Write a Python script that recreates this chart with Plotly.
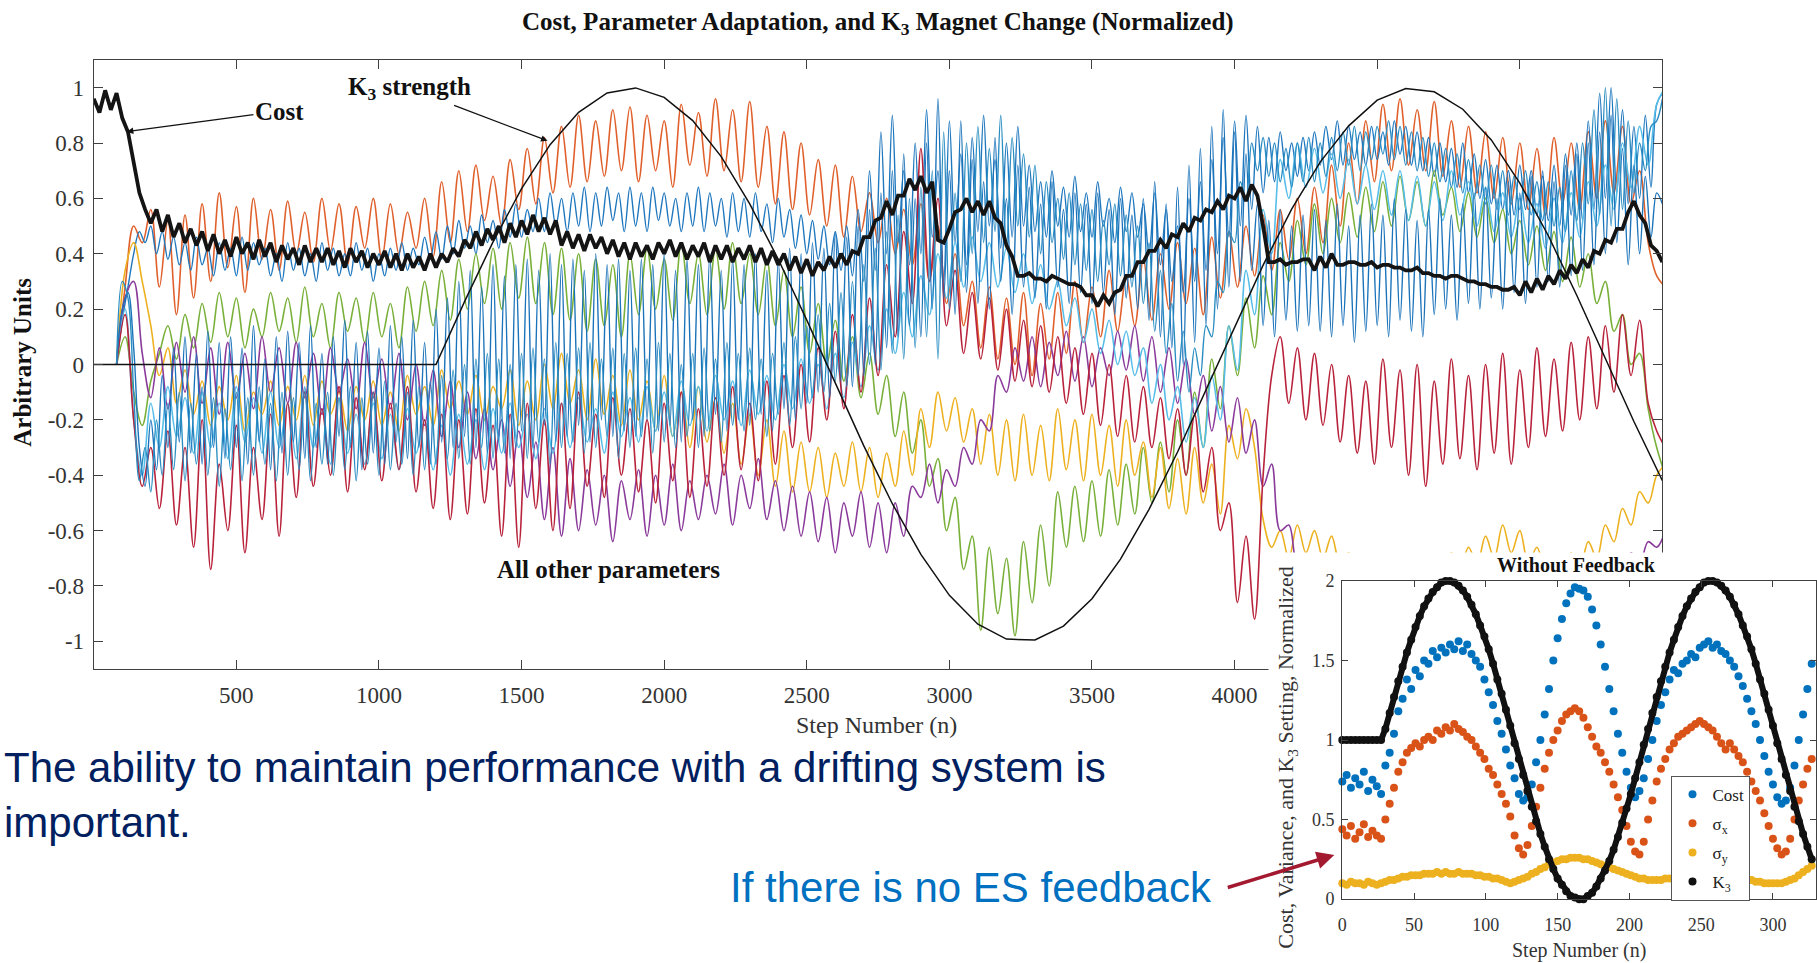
import numpy as np
import plotly.graph_objects as go

# ---------------- main chart data ----------------
# sample grids (step number n)
SLOW_STEPS = np.arange(80, 5511, 30)
FAST_STEPS = np.arange(80, 5501, 20)
COST_STEPS = np.arange(0, 5501, 20)
K3_STEPS = np.arange(0, 5501, 100)

# K3 magnet strength (normalized): flat until n = 1200, then the drift
k3_strength = [0.0, 0.0, 0.0, 0.0, 0.0, 0.0, 0.0, 0.0, 0.0, 0.0, 0.0, 0.0, 0.0,
               0.227, 0.443, 0.635, 0.794, 0.911, 0.981, 0.999, 0.965, 0.881,
               0.751, 0.580, 0.380, 0.160, -0.069, -0.294, -0.503, -0.686, -0.834, -0.938,
               -0.992, -0.995, -0.945, -0.846, -0.703, -0.523, -0.316, -0.092, 0.137, 0.359,
               0.561, 0.731, 0.862, 0.955, 0.997, 0.985, 0.922, 0.811, 0.655, 0.465,
               0.249, 0.022, -0.206, -0.420]

# cost (hundredths)
cost_main = [
    96, 91, 99, 92, 98, 89, 84, 72, 62, 56,
    51, 56, 48, 54, 46, 51, 44, 49, 43, 48,
    41, 47, 40, 45, 39, 46, 40, 44, 38, 45,
    39, 44, 37, 43, 38, 42, 36, 43, 37, 42,
    37, 42, 36, 41, 35, 42, 37, 41, 35, 40,
    36, 41, 35, 40, 34, 40, 35, 39, 34, 40,
    35, 40, 37, 42, 39, 45, 42, 48, 43, 49,
    45, 50, 44, 51, 46, 52, 47, 54, 48, 53,
    47, 52, 43, 48, 42, 47, 41, 47, 42, 46,
    40, 45, 39, 44, 38, 44, 39, 43, 38, 44,
    40, 45, 39, 44, 38, 43, 39, 44, 37, 43,
    38, 43, 37, 42, 38, 43, 37, 42, 36, 41,
    36, 40, 34, 39, 33, 38, 32, 37, 34, 39,
    35, 40, 36, 41, 40, 46, 46, 52, 53, 59,
    54, 61, 61, 67, 63, 68, 62, 66, 45, 44,
    49, 55, 56, 60, 55, 59, 54, 59, 53, 51,
    43, 39, 32, 32, 33, 31, 31, 30, 32, 31,
    30, 29, 29, 28, 25, 25, 21, 25, 22, 26,
    27, 32, 32, 37, 37, 41, 41, 45, 42, 47,
    46, 51, 48, 53, 52, 56, 55, 59, 56, 61,
    60, 64, 59, 65, 61, 50, 37, 37, 38, 36,
    37, 37, 38, 38, 34, 39, 35, 40, 36, 36,
    37, 37, 36, 36, 37, 35, 36, 36, 35, 35,
    34, 34, 35, 33, 33, 32, 32, 31, 32, 32,
    31, 30, 30, 29, 29, 28, 28, 27, 27, 28,
    25, 30, 26, 31, 27, 32, 29, 34, 31, 36,
    33, 38, 35, 41, 40, 45, 44, 49, 49, 55,
    59, 54, 51, 43, 41, 37]

# adapted parameters on the slow grid (hundredths)
param_orange = [
    0, 28, 50, 44, 56, 28, 52, 18, 54, 24,
    58, 30, 62, 35, 57, 26, 60, 38, 56, 34,
    59, 40, 55, 37, 60, 41, 58, 36, 57, 42,
    60, 38, 58, 40, 55, 42, 60, 39, 66, 44,
    70, 48, 72, 52, 68, 50, 74, 56, 78, 58,
    82, 62, 86, 64, 90, 66, 88, 68, 92, 70,
    93, 66, 90, 70, 88, 64, 94, 72, 91, 68,
    96, 70, 92, 66, 95, 64, 86, 58, 84, 56,
    80, 54, 74, 50, 72, 46, 68, 48, 62, 44,
    60, 40, 56, 36, 58, 30, 50, 22, 40, 14,
    30, 6, 28, 2, 24, 0, 26, -4, 22, 2,
    26, 4, 30, 8, 28, 10, 34, 12, 32, 14,
    38, 16, 40, 20, 44, 22, 42, 18, 46, 24,
    48, 28, 50, 32, 54, 34, 56, 38, 60, 40,
    64, 44, 72, 50, 80, 58, 88, 66, 94, 70,
    96, 72, 92, 70, 95, 68, 88, 64, 86, 62,
    84, 60, 82, 58, 80, 56, 78, 54, 82, 58,
    80, 56, 84, 60, 88, 62, 86, 58, 70, 44,
    32, 28]

param_green = [
    0, 10, -10, -22, -6, 4, 14, 2, 18, 6,
    22, 8, 26, 10, 24, 6, 20, 10, 26, 12,
    24, 8, 28, 10, 22, 6, 26, 12, 24, 8,
    26, 10, 22, 6, 28, 12, 30, 14, 34, 16,
    38, 20, 40, 22, 42, 20, 44, 24, 46, 22,
    44, 18, 42, 16, 40, 12, 38, 14, 36, 10,
    40, 18, 42, 20, 38, 16, 44, 22, 40, 18,
    42, 20, 44, 22, 40, 18, 38, 14, 34, 10,
    28, 4, 22, 0, 16, -6, 10, -12, 4, -18,
    -4, -26, -10, -32, -20, -44, -34, -60, -48, -74,
    -62, -96, -66, -90, -70, -98, -64, -86, -58, -80,
    -46, -66, -44, -64, -42, -62, -38, -58, -36, -54,
    -30, -50, -28, -46, -20, -40, -10, -30, 2, -16,
    14, -4, 24, 6, 32, 18, 44, 30, 52, 36,
    58, 40, 60, 44, 62, 46, 64, 48, 66, 50,
    68, 52, 66, 50, 70, 54, 64, 48, 62, 46,
    60, 44, 56, 40, 52, 36, 50, 34, 48, 30,
    46, 28, 40, 22, 30, 12, 18, 0, 4, -16,
    -30, -40]

param_yellow = [
    0, 34, 44, 30, 14, -4, 6, -14, -2, -18,
    -6, -22, -8, -20, -4, -24, -10, -18, -6, -22,
    -8, -20, -4, -22, -6, -18, -10, -24, -8, -20,
    -6, -22, -10, -24, -4, -18, -8, -22, -2, -16,
    -6, -18, -4, -20, -8, -16, -2, -22, -6, -20,
    0, -16, 4, -14, -2, -20, 2, -18, -4, -22,
    -2, -20, -6, -24, -4, -26, -10, -30, -8, -28,
    -12, -32, -14, -36, -18, -40, -20, -44, -24, -46,
    -28, -46, -30, -48, -32, -44, -28, -46, -30, -48,
    -32, -44, -24, -40, -16, -30, -10, -24, -12, -28,
    -16, -36, -18, -40, -20, -42, -18, -40, -22, -42,
    -16, -38, -20, -42, -18, -40, -22, -44, -20, -40,
    -28, -48, -30, -52, -34, -54, -30, -50, -36, -54,
    -22, -34, -16, -30, -56, -66, -60, -70, -58, -68,
    -60, -70, -62, -72, -68, -76, -70, -78, -72, -80,
    -74, -80, -72, -78, -70, -76, -68, -74, -66, -72,
    -62, -70, -58, -68, -60, -72, -66, -74, -70, -76,
    -68, -74, -64, -70, -58, -64, -52, -58, -46, -50,
    -40, -36]

param_purple = [
    0, 24, 30, 4, -12, 6, -16, 8, -10, 10,
    -14, 6, -18, 8, -12, 4, -16, 10, -10, 6,
    -14, 8, -12, 4, -18, 6, -10, 2, -16, 8,
    -12, 2, -16, 4, -20, 0, -22, -2, -26, -6,
    -30, -10, -34, -16, -38, -20, -44, -24, -48, -28,
    -56, -30, -62, -34, -60, -38, -58, -40, -64, -42,
    -56, -38, -62, -40, -58, -36, -60, -42, -56, -40,
    -54, -36, -58, -40, -52, -34, -56, -42, -60, -44,
    -62, -46, -64, -48, -68, -50, -62, -46, -66, -50,
    -68, -50, -62, -44, -48, -36, -50, -38, -44, -30,
    -36, -20, -24, -4, -10, 6, -6, 10, -8, 8,
    -4, 12, -6, 10, -8, 6, -4, 12, -2, 14,
    -6, 10, -10, 6, -14, 2, -18, -4, -24, -8,
    -28, -12, -32, -20, -44, -36, -60, -58, -72, -70,
    -78, -72, -80, -74, -82, -76, -80, -72, -84, -76,
    -82, -74, -86, -78, -84, -76, -80, -74, -82, -76,
    -84, -78, -86, -80, -82, -76, -84, -78, -80, -74,
    -82, -76, -80, -74, -78, -70, -76, -68, -72, -64,
    -66, -60]

param_lightblue = [
    0, 20, -20, -40, -14, -30, -8, -26, -12, -32,
    -10, -30, -14, -34, -8, -28, -12, -32, -10, -30,
    -14, -34, -10, -30, -16, -36, -12, -32, -18, -36,
    -14, -34, -18, -38, -16, -32, -20, -38, -22, -40,
    -18, -36, -20, -38, -16, -32, -14, -30, -18, -34,
    -16, -32, -14, -30, -12, -28, -16, -32, -10, -26,
    -12, -28, -8, -24, -10, -26, -6, -22, -8, -24,
    -4, -20, -6, -22, -2, -18, -4, -20, 0, -16,
    2, -14, 0, -16, 4, -12, 8, -8, 14, -2,
    20, 4, 26, 10, 32, 18, 40, 24, 44, 28,
    46, 30, 44, 28, 42, 26, 40, 22, 36, 20,
    30, 14, 24, 8, 20, 4, 16, 0, 12, -4,
    6, -14, 0, -20, -8, -28, -12, -30, -4, -20,
    14, -2, 34, 18, 56, 40, 74, 60, 80, 64,
    78, 62, 76, 60, 74, 58, 72, 56, 70, 54,
    70, 52, 68, 50, 66, 52, 70, 54, 66, 50,
    64, 48, 62, 46, 60, 44, 58, 42, 60, 44,
    62, 46, 66, 50, 72, 56, 80, 64, 86, 72,
    94, 100]

param_darkred = [
    0, 18, -20, -44, -30, -52, -24, -58, -30, -66,
    -20, -74, -36, -60, -22, -68, -30, -56, -18, -62,
    -14, -48, -10, -44, -16, -40, -8, -46, -12, -38,
    -10, -42, -14, -38, -8, -46, -20, -52, -18, -56,
    -20, -54, -16, -50, -22, -62, -18, -66, -14, -52,
    -20, -60, -14, -52, -10, -44, -18, -48, -12, -40,
    -16, -46, -20, -50, -14, -42, -10, -48, -16, -44,
    -12, -40, -8, -38, -14, -42, -6, -36, -4, -30,
    0, -28, 6, -20, 12, -16, 18, -10, 24, -4,
    36, 10, 48, 22, 78, 30, 60, 14, 34, 4,
    26, 2, 24, -2, 20, -6, 16, -8, 14, -10,
    10, -14, 6, -18, 4, -22, 0, -26, -4, -28,
    -8, -30, -12, -34, -16, -40, -18, -46, -30, -60,
    -50, -86, -62, -92, -40, -4, 10, -14, 6, -20,
    4, -22, 0, -28, -4, -32, -6, -36, 2, -30,
    -2, -40, 0, -44, -6, -36, 2, -34, -4, -38,
    0, -32, 4, -36, -2, -30, 6, -26, 2, -24,
    8, -20, 10, -16, 14, -10, 18, -4, 16, -14,
    -24, -30]

# adapted parameters on the fast grid (hundredths)
param_blue_a = [
    0, 16, 28, 40, 48, 44, 50, 40, 48, 38,
    46, 36, 44, 34, 46, 36, 42, 32, 44, 34,
    42, 32, 46, 34, 44, 36, 42, 32, 40, 30,
    44, 34, 42, 32, 40, 30, 44, 34, 42, 32,
    40, 32, 44, 34, 42, 30, 40, 32, 42, 34,
    44, 34, 42, 36, 46, 38, 48, 38, 50, 40,
    52, 42, 50, 40, 54, 44, 52, 42, 56, 46,
    58, 46, 56, 48, 60, 48, 62, 50, 60, 48,
    62, 50, 64, 48, 62, 50, 64, 52, 62, 48,
    64, 50, 62, 48, 64, 52, 62, 50, 60, 48,
    62, 50, 64, 48, 62, 50, 60, 46, 62, 48,
    60, 46, 62, 48, 58, 44, 60, 46, 56, 42,
    54, 40, 52, 38, 50, 36, 48, 34, 50, 32,
    56, 30, 70, 34, 84, 40, 90, 44, 70, 36,
    80, 40, 92, 46, 70, 30, 88, 44, 76, 36,
    82, 48, 90, 50, 74, 42, 80, 46, 86, 50,
    72, 48, 66, 46, 70, 50, 64, 46, 68, 48,
    62, 46, 66, 50, 60, 44, 64, 48, 62, 46,
    58, 40, 62, 36, 56, 30, 50, 26, 60, 30,
    66, 34, 74, 40, 82, 46, 88, 50, 90, 56,
    86, 62, 82, 66, 84, 70, 80, 68, 82, 70,
    84, 72, 86, 74, 88, 72, 86, 74, 84, 72,
    86, 74, 84, 72, 88, 76, 86, 72, 84, 70,
    82, 68, 80, 66, 78, 64, 80, 62, 76, 60,
    74, 58, 72, 56, 70, 54, 72, 56, 70, 54,
    68, 52, 72, 50, 76, 54, 80, 52, 88, 56,
    98, 60, 100, 62, 92, 58, 86, 60, 90, 64,
    94, 98]

param_blue_b = [
    0, 20, 26, 6, -30, -44, -20, -38, -4, -30,
    6, -28, 10, -32, 4, -36, 12, -30, 8, -34,
    10, -30, 6, -36, 14, -28, 2, -38, 10, -32,
    12, -28, 8, -34, 14, -30, 4, -36, 10, -26,
    16, -30, 8, -38, 12, -32, 6, -36, 14, -28,
    10, -34, 16, -30, 8, -36, 20, -28, 24, -30,
    30, -26, 34, -30, 28, -32, 36, -28, 32, -34,
    36, -24, 38, -30, 34, -22, 40, -28, 36, -26,
    38, -22, 34, -28, 40, -20, 36, -26, 38, -24,
    34, -26, 38, -20, 36, -24, 40, -22, 34, -28,
    38, -20, 36, -26, 40, -18, 34, -24, 38, -20,
    36, -22, 40, -18, 34, -24, 38, -16, 42, -20,
    40, -14, 44, -10, 42, -12, 48, -6, 46, -8,
    50, -4, 56, 0, 62, 6, 70, 10, 76, 14,
    60, 10, 80, 20, 96, 24, 70, 18, 88, 26,
    74, 22, 66, 20, 82, 30, 60, 18, 72, 28,
    64, 24, 58, 20, 66, 28, 56, 22, 62, 26,
    58, 22, 62, 26, 56, 18, 60, 24, 54, 20,
    60, 16, 66, 10, 58, 6, 64, 0, 72, 8,
    78, 14, 86, 20, 92, 28, 84, 30, 76, 34,
    58, 14, 52, 10, 56, 16, 50, 12, 54, 14,
    56, 12, 52, 10, 58, 14, 50, 8, 54, 12,
    58, 14, 54, 10, 60, 16, 56, 12, 52, 10,
    56, 18, 60, 20, 54, 16, 58, 22, 62, 20,
    64, 24, 60, 20, 66, 26, 62, 22, 68, 28,
    70, 30, 66, 28, 72, 32, 76, 34, 80, 36,
    84, 40, 90, 44, 78, 36, 72, 40, 68, 46,
    62, 58]

param_blue_c = [
    0, 30, 24, -10, -42, -30, -46, -20, -40, -14,
    -38, -10, -42, -14, -36, -8, -40, -12, -44, -16,
    -38, -10, -42, -12, -40, -8, -36, -14, -42, -10,
    -40, -12, -38, -8, -42, -14, -36, -10, -40, -12,
    -38, -8, -42, -12, -36, -10, -40, -6, -38, -14,
    -36, -10, -40, -8, -38, -6, -36, -4, -34, -2,
    -34, 0, -36, 2, -30, 4, -34, 2, -32, 0,
    -30, 4, -34, 6, -28, 2, -36, 8, -30, 4,
    -28, 6, -32, 8, -30, 2, -26, 6, -34, 4,
    -30, 6, -26, 2, -32, 8, -28, 4, -30, 0,
    -26, 4, -30, 6, -24, 2, -28, 8, -22, 4,
    -24, 6, -20, 2, -26, 4, -18, 8, -22, 10,
    -16, 14, -12, 18, -10, 22, -6, 26, -8, 30,
    -4, 36, 0, 42, -2, 48, 4, 54, 2, 60,
    6, 64, 10, 70, 2, 84, 20, 62, 30, 80,
    40, 86, 44, 78, 48, 90, 42, 82, 50, 76,
    46, 72, 40, 66, 44, 60, 38, 62, 36, 58,
    34, 56, 30, 52, 36, 58, 32, 54, 28, 50,
    22, 44, 12, 34, 4, 22, -6, 12, -10, 6,
    -4, 14, 10, 30, 26, 48, 44, 66, 60, 80,
    70, 82, 68, 80, 66, 78, 64, 80, 66, 82,
    66, 80, 68, 82, 70, 84, 72, 86, 70, 84,
    74, 86, 76, 88, 74, 86, 72, 84, 70, 82,
    68, 80, 66, 78, 64, 76, 62, 74, 60, 72,
    58, 72, 56, 70, 54, 68, 56, 70, 54, 66,
    52, 66, 50, 64, 48, 70, 52, 80, 58, 92,
    54, 100, 50, 96, 56, 88, 62, 80, 70, 86,
    88, 96]

MAIN_XTICKS = [500, 1000, 1500, 2000, 2500, 3000, 3500, 4000, 4500, 5000]
MAIN_XLABELS = ["500", "1000", "1500", "2000", "2500", "3000", "3500", "4000", "4500", "5000"]
MAIN_YTICKS = [-1, -0.8, -0.6, -0.4, -0.2, 0, 0.2, 0.4, 0.6, 0.8, 1]
MAIN_YLABELS = ["-1", "-0.8", "-0.6", "-0.4", "-0.2", "0", "0.2", "0.4", "0.6", "0.8", "1"]

# ---------------- inset: without feedback ----------------
INSET_STEPS = np.arange(0, 330, 3)
inset_cost = [
    74, 78, 70, 76, 72, 80, 68, 75, 71, 66,
    84, 92, 104, 118, 126, 138, 132, 144, 140, 150,
    148, 156, 152, 158, 155, 160, 157, 162, 156, 160,
    154, 150, 146, 138, 130, 122, 112, 104, 94, 84,
    76, 66, 62, 64, 72, 86, 100, 116, 132, 150,
    164, 176, 186, 192, 196, 195, 194, 190, 182, 172,
    160, 146, 132, 118, 104, 92, 80, 70, 64, 68,
    76, 88, 100, 112, 122, 130, 138, 144, 142, 148,
    150, 154, 152, 158, 160, 162, 158, 160, 156, 154,
    150, 146, 140, 134, 126, 118, 110, 100, 90, 80,
    72, 64, 60, 62, 70, 84, 100, 116, 132, 148]
inset_sigma_x = [
    44, 40, 46, 38, 42, 47, 39, 43, 40, 38,
    50, 60, 70, 80, 86, 92, 95, 98, 96, 100,
    102, 100, 106, 104, 108, 106, 110, 107, 105, 102,
    100, 96, 92, 88, 82, 78, 72, 66, 60, 52,
    40, 32, 28, 34, 46, 58, 70, 82, 92, 100,
    106, 112, 116, 118, 120, 118, 114, 108, 102, 96,
    92, 86, 80, 72, 64, 56, 46, 36, 30, 28,
    36, 50, 62, 74, 82, 88, 94, 98, 102, 104,
    106, 108, 110, 112, 110, 108, 106, 102, 98, 94,
    98, 94, 90, 86, 80, 74, 68, 62, 54, 46,
    38, 32, 28, 30, 38, 50, 62, 72, 82, 88]
inset_sigma_y = [
    10, 9, 11, 10, 10, 9, 11, 10, 9, 10,
    11, 12, 12, 13, 14, 14, 15, 15, 15, 16,
    16, 16, 17, 16, 17, 16, 16, 17, 16, 16,
    16, 15, 15, 14, 14, 13, 13, 12, 11, 10,
    11, 12, 13, 14, 16, 17, 19, 20, 22, 23,
    24, 25, 25, 26, 26, 26, 25, 25, 24, 23,
    22, 21, 20, 19, 18, 17, 16, 15, 14, 13,
    13, 12, 12, 12, 12, 13, 13, 13, 14, 14,
    14, 14, 15, 15, 15, 14, 14, 14, 14, 14,
    13, 13, 13, 12, 12, 12, 11, 11, 10, 10,
    10, 10, 10, 11, 12, 13, 15, 17, 19, 21]
inset_k3 = [
    100, 100, 100, 100, 100, 100, 100, 100, 100, 100,
    107, 117, 127, 137, 146, 155, 163, 171, 178, 184,
    189, 193, 196, 199, 200, 200, 199, 197, 194, 190,
    185, 179, 172, 165, 157, 148, 138, 129, 119, 109,
    98, 88, 78, 68, 58, 49, 41, 33, 25, 19,
    13, 9, 5, 2, 1, 0, 0, 2, 4, 8,
    13, 18, 24, 31, 39, 48, 57, 66, 76, 86,
    97, 107, 117, 127, 137, 146, 155, 163, 171, 178,
    184, 189, 193, 196, 199, 200, 200, 199, 197, 194,
    190, 185, 179, 172, 165, 157, 148, 138, 129, 119,
    109, 98, 88, 78, 68, 58, 49, 41, 33, 25]

INSET_XTICKS = [0, 50, 100, 150, 200, 250, 300]
INSET_XLABELS = ["0", "50", "100", "150", "200", "250", "300"]
INSET_YTICKS = [0, 0.5, 1, 1.5, 2]
INSET_YLABELS = ["0", "0.5", "1", "1.5", "2"]


def hundredths(vals):
    return np.asarray(vals, dtype=float) / 100.0


def paired(steps, vals):
    n = min(len(steps), len(vals))
    return np.asarray(steps)[:n], hundredths(vals)[:n]


SERIF = "Liberation Serif"
SANS = "Liberation Sans"
AXIS_GREY = "#404040"

fig = go.Figure()

# adapted parameters (oscillating traces)
param_traces = [
    (SLOW_STEPS, param_orange, "#E0602C", 1.6),
    (FAST_STEPS, param_blue_a, "#1F77BE", 1.4),
    (SLOW_STEPS, param_green, "#79B03A", 1.6),
    (SLOW_STEPS, param_yellow, "#EDB120", 1.6),
    (SLOW_STEPS, param_purple, "#8A3A9A", 1.6),
    (SLOW_STEPS, param_lightblue, "#56BDE8", 1.6),
    (SLOW_STEPS, param_darkred, "#B8223A", 1.6),
    (FAST_STEPS, param_blue_b, "#1B73BA", 1.4),
    (FAST_STEPS, param_blue_c, "#2A8DC2", 1.4),
]
for steps, vals, color, width in param_traces:
    xs, ys = paired(steps, vals)
    fig.add_trace(go.Scatter(
        x=xs, y=ys, mode="lines", xaxis="x", yaxis="y",
        line=dict(color=color, width=width, shape="spline", smoothing=1.0),
        showlegend=False, hoverinfo="skip"))

# K3 strength
fig.add_trace(go.Scatter(
    x=K3_STEPS, y=k3_strength, mode="lines", xaxis="x", yaxis="y",
    line=dict(color="#111111", width=1.5),
    showlegend=False, hoverinfo="skip"))

# cost
xs, ys = paired(COST_STEPS, cost_main)
fig.add_trace(go.Scatter(
    x=xs, y=ys, mode="lines", xaxis="x", yaxis="y",
    line=dict(color="#141414", width=3.8),
    showlegend=False, hoverinfo="skip"))

# blank panel behind the inset
fig.add_trace(go.Scatter(x=[], y=[], xaxis="x2", yaxis="y2",
                         showlegend=False, hoverinfo="skip"))

# inset traces
inset_series = [
    ("Cost", inset_cost, "#0072BD"),
    ("\u03c3<sub>x</sub>", inset_sigma_x, "#D95319"),
    ("\u03c3<sub>y</sub>", inset_sigma_y, "#EDB120"),
]
for name, vals, color in inset_series:
    xs, ys = paired(INSET_STEPS, vals)
    fig.add_trace(go.Scatter(
        x=xs, y=ys, mode="markers", name=name, legendgroup=name,
        xaxis="x3", yaxis="y3", cliponaxis=False,
        marker=dict(color=color, size=8), hoverinfo="skip"))

xs, ys = paired(INSET_STEPS, inset_k3)
fig.add_trace(go.Scatter(
    x=xs, y=ys, mode="lines", xaxis="x3", yaxis="y3", cliponaxis=False,
    line=dict(color="#111111", width=6), showlegend=False, hoverinfo="skip"))
fig.add_trace(go.Scatter(
    x=xs, y=ys, mode="markers", name="K<sub>3</sub>", legendgroup="K3",
    xaxis="x3", yaxis="y3", cliponaxis=False,
    marker=dict(color="#111111", size=8), hoverinfo="skip"))

axis_common = dict(
    showline=True, linecolor=AXIS_GREY, linewidth=1.2, mirror="ticks",
    ticks="inside", tickcolor=AXIS_GREY, showgrid=False, zeroline=False,
)


def label(text, x, y, size, color="#111111", family=SERIF, angle=0):
    return dict(text=text, x=x, y=y, xref="paper", yref="paper",
                xanchor="center", yanchor="middle", textangle=angle,
                showarrow=False, font=dict(family=family, size=size, color=color))


annotations = [
    label("<b>Cost, Parameter Adaptation, and K<sub>3</sub> Magnet Change (Normalized)</b>",
          0.4816, 0.9855, 25),
    label("<b>Arbitrary Units</b>", 0.0095, 0.6262, 25, angle=-90),
    label("Step Number (n)", 0.481, 0.2420, 24, color="#333333"),
    dict(text="<b>Cost</b>", x=116, y=0.841, ax=651, ay=0.915,
         xref="x", yref="y", axref="x", ayref="y",
         showarrow=True, arrowhead=2, arrowsize=1, arrowwidth=1.3, arrowcolor="#111111",
         font=dict(family=SERIF, size=25, color="#111111")),
    dict(text="<b>K<sub>3</sub> strength</b>", x=1591, y=0.808, ax=1106, ay=0.997,
         xref="x", yref="y", axref="x", ayref="y",
         showarrow=True, arrowhead=2, arrowsize=1, arrowwidth=1.3, arrowcolor="#111111",
         font=dict(family=SERIF, size=25, color="#111111")),
    dict(text="<b>All other parameters</b>", x=1806, y=-0.742, xref="x", yref="y",
         xanchor="center", yanchor="middle",
         showarrow=False, font=dict(family=SERIF, size=25, color="#111111")),
    # inset labels
    label("<b>Without Feedback</b>", 0.8674, 0.4112, 20),
    label("Cost, Variance, and K<sub>3</sub> Setting, Normalized", 0.7078, 0.2066, 22,
          color="#333333", angle=-90),
    label("Step Number (n)", 0.8685, 0.0030, 20, color="#333333"),
    # slide text
    dict(text="The ability to maintain performance with a drifting system is<br>important.",
         x=-0.0017, y=0.1675, xref="paper", yref="paper", xanchor="left", yanchor="middle",
         align="left", showarrow=False, font=dict(family=SANS, size=42, color="#002060")),
    dict(text="If there is no ES feedback", x=0.667, y=0.0690, xref="paper", yref="paper",
         xanchor="right", yanchor="middle", showarrow=False,
         font=dict(family=SANS, size=42, color="#0070C0")),
    dict(text="", x=0.7336, y=0.104, xref="paper", yref="paper",
         ax=-108, ay=33, axref="pixel", ayref="pixel",
         showarrow=True, arrowhead=2, arrowsize=1, arrowwidth=3.5, arrowcolor="#A3192F"),
]

fig.update_layout(
    width=1817, height=963,
    margin=dict(l=0, r=0, t=0, b=0),
    paper_bgcolor="white", plot_bgcolor="white",
    showlegend=True,
    legend=dict(x=0.9197, y=0.188, xanchor="left", yanchor="top",
                bgcolor="white", bordercolor="#555555", borderwidth=1,
                font=dict(family=SERIF, size=17, color="#222222"),
                tracegroupgap=4, itemwidth=30),
    xaxis=dict(domain=[0.04898, 0.91469], range=[0, 5500], anchor="y",
               tickvals=MAIN_XTICKS, ticktext=MAIN_XLABELS, ticklen=9,
               tickfont=dict(family=SERIF, size=23, color="#333333"),
               ticklabelstandoff=5, **axis_common),
    yaxis=dict(domain=[0.30114, 0.94704], range=[-1.1, 1.1], anchor="x",
               tickvals=MAIN_YTICKS, ticktext=MAIN_YLABELS, ticklen=9,
               tickfont=dict(family=SERIF, size=23, color="#333333"),
               ticklabelstandoff=4, **axis_common),
    xaxis2=dict(domain=[0.6973, 1.0], range=[0, 1], anchor="y2", visible=False),
    yaxis2=dict(domain=[0.0, 0.42471], range=[0, 1], anchor="x2", visible=False),
    xaxis3=dict(domain=[0.73803, 0.99945], range=[0, 330], anchor="y3",
                tickvals=INSET_XTICKS, ticktext=INSET_XLABELS, ticklen=6,
                tickfont=dict(family=SERIF, size=18, color="#333333"),
                ticklabelstandoff=9, **axis_common),
    yaxis3=dict(domain=[0.05711, 0.39460], range=[0, 2], anchor="x3",
                tickvals=INSET_YTICKS, ticktext=INSET_YLABELS, ticklen=6,
                tickfont=dict(family=SERIF, size=18, color="#333333"),
                ticklabelstandoff=3, **axis_common),
    annotations=annotations,
)

fig.write_html("out.html")
